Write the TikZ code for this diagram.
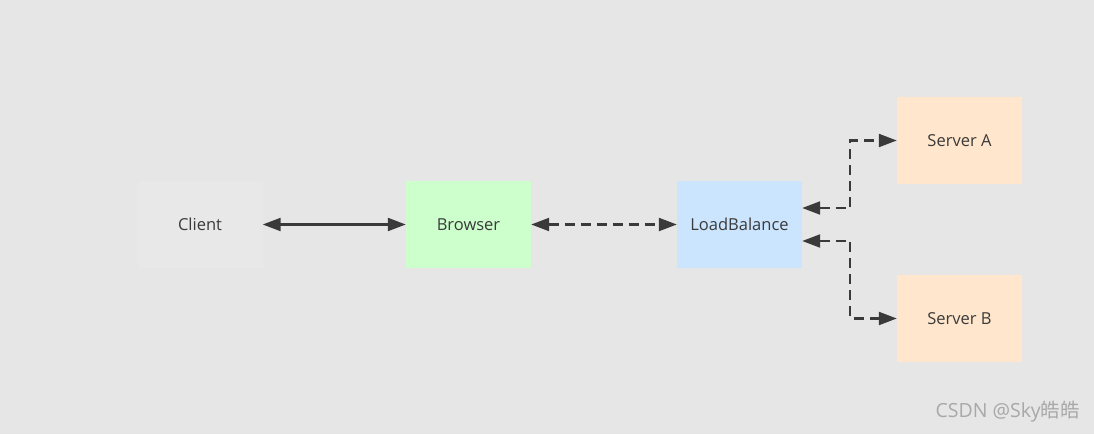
\documentclass[tikz,border=0pt]{standalone}
\usepackage{fontspec}
\setmainfont{Open Sans}
\newfontfamily\cjkfont{Noto Sans CJK SC}
\usetikzlibrary{arrows.meta}
\definecolor{bg}{HTML}{E6E6E6}
\definecolor{clientfill}{HTML}{E8E8E8}
\definecolor{browserfill}{HTML}{CCFFCC}
\definecolor{lbfill}{HTML}{CCE5FF}
\definecolor{serverfill}{HTML}{FFE6CC}
\definecolor{txt}{HTML}{3A3A3A}
\definecolor{wm}{HTML}{A8A8A8}
\tikzset{
  box/.style={draw=none, minimum width=125pt, minimum height=87pt, inner sep=0pt, text=txt, font=\fontsize{16.5}{19}\selectfont},
  conn/.style={draw=txt, line width=2.2pt, {Triangle[length=18pt,width=13pt]}-{Triangle[length=18pt,width=13pt]}},
  dashconn/.style={conn, dash pattern=on 10pt off 6pt},
}
\begin{document}
\begin{tikzpicture}[x=1pt,y=-1pt]
\fill[bg] (0,0) rectangle (1094,434);
\useasboundingbox (0,0) rectangle (1094,434);
\node[box, fill=clientfill] (client) at (200,224.5) {Client};
\node[box, fill=browserfill] (browser) at (468.5,224.5) {Browser};
\node[box, fill=lbfill] (lb) at (739.5,224.5) {LoadBalance};
\node[box, fill=serverfill] (sa) at (959.5,140.5) {Server A};
\node[box, fill=serverfill] (sb) at (959.5,318.5) {Server B};
\draw[conn] (client) -- (browser);
\draw[dashconn] (browser) -- (lb);
\draw[dashconn] ([yshift=16.5pt]lb.east) -- ++(48,0) |- (sa.west);
\draw[dashconn] ([yshift=-16.5pt]lb.east) -- ++(48,0) |- (sb.west);
\node[text=wm, font=\fontsize{19.5}{22}\selectfont, anchor=east, inner sep=0pt] (wmark) at (1080,412) {CSDN @Sky{\cjkfont 皓皓}};
\end{tikzpicture}
\end{document}
